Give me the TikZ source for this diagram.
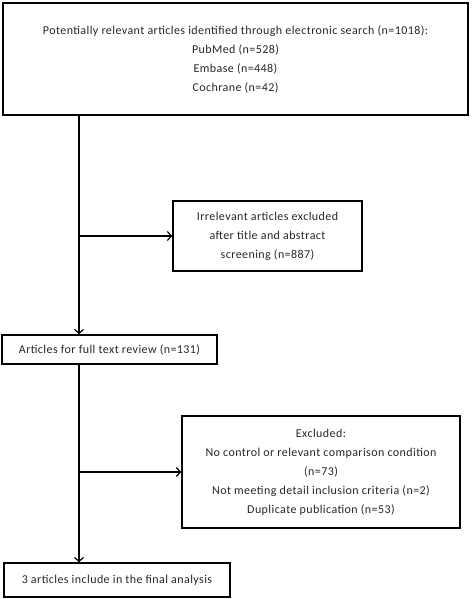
\documentclass[tikz,border=0pt]{standalone}
\usepackage{fontspec}
\setmainfont{Carlito}[LetterSpace=3.5]
\usetikzlibrary{arrows.meta,positioning}

\begin{document}
\begin{tikzpicture}[
        x=1pt, y=-1pt,
        box/.style={rectangle, draw, line width=1.6pt, align=center, inner sep=0pt,
                    font=\fontsize{12}{19}\selectfont, text=black!85},
        arr/.style={-{Straight Barb[length=4pt,width=9pt,line width=1.2pt]}, line width=1.6pt}
    ]
    \useasboundingbox (0,0) rectangle (472,599);

    \node[box, minimum width=465, minimum height=112] (search) at (235.5,59)
        {Potentially relevant articles identified through electronic search (n=1018):\\
         PubMed (n=528)\\ Embase (n=448)\\ Cochrane (n=42)};
    \node[box, minimum width=189, minimum height=70] (irrel) at (267.5,236)
        {Irrelevant articles excluded\\ after title and abstract\\ screening (n=887)};
    \node[box, minimum width=215, minimum height=29] (full) at (109.5,349.5)
        {Articles for full text review (n=131)};
    \node[box, minimum width=278, minimum height=112] (excl) at (321,472)
        {Excluded:\\ No control or relevant comparison condition\\ (n=73)\\
         Not meeting detail inclusion criteria (n=2)\\ Duplicate publication (n=53)};
    \node[box, minimum width=226, minimum height=34] (final) at (117,580)
        {3 articles include in the final analysis};

    \coordinate (spine) at (79,0);

    \draw[arr] (search.south -| spine) -- (full.north -| spine);
    \draw[arr] (irrel.west -| spine) -- (irrel.west);
    \draw[arr] (full.south -| spine) -- (final.north -| spine);
    \draw[arr] (excl.west -| spine) -- (excl.west);
\end{tikzpicture}
\end{document}
